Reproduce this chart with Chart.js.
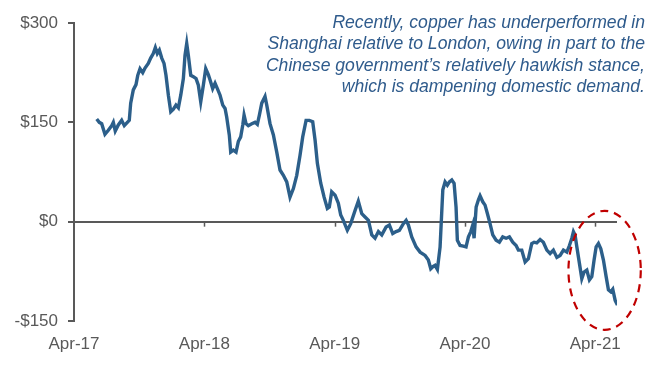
<!DOCTYPE html>
<html>
<head>
<meta charset="utf-8">
<script src="https://cdn.jsdelivr.net/npm/chart.js@4/dist/chart.umd.min.js"></script>
<style>
  html, body { margin:0; padding:0; background:#fff; }
  #wrap { position:relative; width:661px; height:366px; }
  #note {
    position:absolute; right:16px; top:12px;
    font-family:"Liberation Sans", Arial, sans-serif; font-style:italic;
    font-size:17.6px; line-height:21.3px; color:#2F5B8C; text-align:right;
  }
</style>
</head>
<body>
<div id="wrap">
  <canvas id="chart" width="661" height="366"></canvas>
  <div id="note">Recently, copper has underperformed in<br>Shanghai relative to London, owing in part to the<br>Chinese government’s relatively hawkish stance,<br>which is dampening domestic demand.</div>
</div>
<script>
// x = months since Apr-17, y = Shanghai minus London copper price, $/t
const months = [
  2.09,2.33,2.55,2.85,3.16,3.47,3.62,3.80,4.08,4.39,4.63,4.91,5.09,5.22,5.46,5.71,5.87,6.08,6.33,6.54,
  6.84,7.06,7.30,7.49,7.67,7.86,8.08,8.29,8.47,8.69,8.91,9.15,9.39,9.61,9.83,10.07,10.22,10.38,10.53,10.75,
  10.99,11.24,11.45,11.67,11.91,12.13,12.37,12.53,12.77,12.99,13.20,13.45,13.70,13.91,14.06,14.30,14.43,14.67,14.92,15.13,
  15.35,15.54,15.66,15.84,16.05,16.37,16.67,16.88,17.07,17.29,17.59,17.75,18.05,18.36,18.67,18.97,19.28,19.59,19.89,20.20,
  20.51,20.81,21.06,21.37,21.67,21.98,22.20,22.41,22.72,23.03,23.33,23.51,23.73,24.04,24.34,24.56,24.80,25.17,25.48,25.88,
  26.18,26.50,26.80,27.11,27.42,27.72,28.03,28.34,28.74,29.04,29.35,29.66,29.96,30.33,30.58,30.79,31.10,31.50,31.87,32.33,
  32.63,32.85,33.04,33.25,33.46,33.71,33.87,33.96,34.17,34.38,34.57,34.79,35.00,35.18,35.30,35.55,35.85,36.10,36.32,36.54,
  36.72,36.84,37.03,37.24,37.39,37.64,37.85,38.07,38.31,38.56,38.87,39.17,39.48,39.79,40.09,40.40,40.71,40.92,41.23,41.54,
  41.84,42.15,42.37,42.61,42.92,43.22,43.54,43.84,44.14,44.46,44.76,45.07,45.38,45.62,45.84,45.99,46.14,46.30,46.54,46.76,
  46.97,47.22,47.46,47.68,47.89,48.08,48.29,48.51,48.75,49.00,49.21,49.43,49.61,49.83,50.04
];
const spread = [
  155,150,148,132,138,145,150,137,146,153,145,150,153,179,199,207,221,231,225,232,
  239,247,254,263,254,259,247,239,221,191,166,170,176,172,191,216,251,269,251,221,
  219,216,206,181,206,231,222,214,201,209,201,191,176,171,158,131,105,108,105,121,
  128,146,161,148,145,148,150,147,161,179,189,176,148,131,105,78,70,60,37,50,
  70,100,128,153,153,151,123,88,58,37,20,22,45,40,28,10,2,-13,-3,17,
  31,12,7,2,-20,-25,-15,-20,-8,-5,-18,-15,-13,-3,2,-5,-23,-38,-46,-51,
  -58,-71,-68,-66,-72,-38,17,48,60,55,60,63,58,22,-28,-36,-37,-38,-23,-15,
  -5,-25,22,33,39,30,25,12,-3,-20,-28,-31,-23,-25,-23,-31,-36,-43,-43,-61,
  -56,-33,-31,-32,-27,-31,-43,-48,-43,-54,-51,-43,-46,-36,-25,-15,-20,-38,-63,-86,
  -76,-73,-88,-83,-58,-38,-33,-41,-58,-83,-103,-106,-102,-119,-126
];
const yTicks = [300, 150, 0, -150];
const xTickLabels = ["Apr-17", "Apr-18", "Apr-19", "Apr-20", "Apr-21"];
// red dashed ring: centre (months, $), radii (months, $)
const ring = [48.86, -73.5, 3.33, 89.8];

const grey = "#595959";
const font = { family: "'Liberation Sans', Arial, sans-serif", size: 17 };

const zeroAxis = {
  id: "zeroAxis",
  afterDraw(chart) {
    const { ctx, scales: { x, y } } = chart;
    const y0 = y.getPixelForValue(0);
    ctx.save();
    ctx.strokeStyle = grey;
    ctx.lineWidth = 1.5;
    for (let i = 1; i < xTickLabels.length; i++) {
      const px = Math.round(x.getPixelForValue(i * 12)) + 0.5;
      ctx.beginPath(); ctx.moveTo(px, y0); ctx.lineTo(px, y0 + 5); ctx.stroke();
    }
    // red dashed ellipse
    const cx = x.getPixelForValue(ring[0]), cy = y.getPixelForValue(ring[1]);
    const rx = x.getPixelForValue(ring[0] + ring[2]) - cx;
    const ry = cy - y.getPixelForValue(ring[1] + ring[3]);
    ctx.strokeStyle = "#C00000";
    ctx.lineWidth = 2.2;
    ctx.setLineDash([8, 6]);
    ctx.beginPath();
    ctx.ellipse(cx, cy, rx, ry, 0, 0, Math.PI * 2);
    ctx.stroke();
    ctx.restore();
  }
};

new Chart(document.getElementById("chart"), {
  type: "line",
  data: {
    datasets: [{
      data: months.map((m, i) => ({ x: m, y: spread[i] })),
      borderColor: "#2C5F8A",
      borderWidth: 3.4,
      pointRadius: 0,
      tension: 0
    }]
  },
  options: {
    responsive: false,
    animation: false,
    layout: { padding: { top: 23, right: 44, bottom: 0, left: 0 } },
    plugins: { legend: { display: false }, tooltip: { enabled: false } },
    scales: {
      x: {
        type: "linear", min: 0, max: 50,
        afterBuildTicks: s => { s.ticks = xTickLabels.map((_, i) => ({ value: i * 12 })); },
        afterFit: s => { s.height = 45; },
        grid: { display: false, drawTicks: false },
        border: { display: false },
        ticks: { color: grey, font, padding: 13, maxRotation: 0, autoSkip: false,
                 callback: (v, i) => xTickLabels[i] }
      },
      y: {
        min: -150, max: 300,
        afterBuildTicks: s => { s.ticks = yTicks.map(v => ({ value: v })); },
        afterFit: s => { s.width = 74; },
        border: { color: grey, width: 2 },
        grid: {
          color: c => c.tick && c.tick.value === 0 ? grey : "rgba(0,0,0,0)",
          lineWidth: 2, tickLength: 6, tickColor: grey, tickWidth: 2
        },
        ticks: { color: grey, font, padding: 10,
                 callback: v => (v < 0 ? "-$" + Math.abs(v) : "$" + v) }
      }
    }
  },
  plugins: [zeroAxis]
});
</script>
</body>
</html>
